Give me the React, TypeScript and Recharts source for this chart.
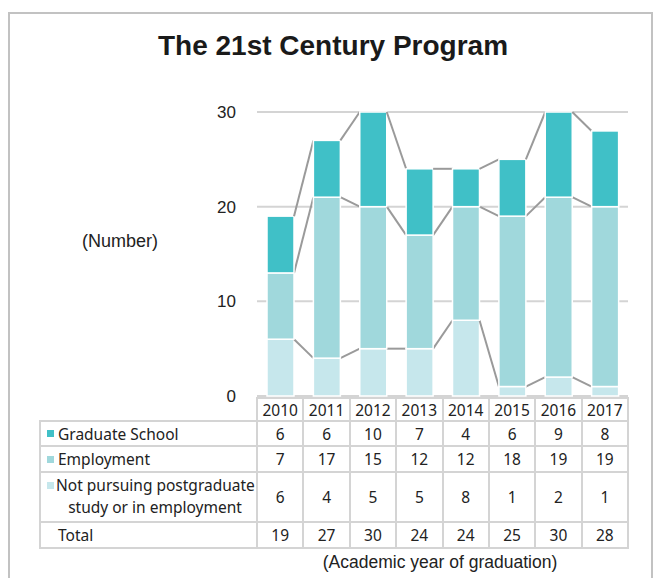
import React from 'react';
import { BarChart, Bar, XAxis, YAxis, CartesianGrid } from 'recharts';

const years = ['2010', '2011', '2012', '2013', '2014', '2015', '2016', '2017'];
const graduateSchool = [6, 6, 10, 7, 4, 6, 9, 8];
const employment = [7, 17, 15, 12, 12, 18, 19, 19];
const notPursuing = [6, 4, 5, 5, 8, 1, 2, 1];
const totals = [19, 27, 30, 24, 24, 25, 30, 28];
const yTicks = [0, 10, 20, 30];

const seriesNames = {
  graduate: 'Graduate School',
  employment: 'Employment',
  notPursuing: ['Not pursuing postgraduate', 'study or in employment'],
  total: 'Total',
};

const COLORS = {
  graduate: '#40C0C7',
  employment: '#A0D8DC',
  notPursuing: '#C6E7EC',
};

const data = years.map((y, i) => ({
  year: y,
  notPursuing: notPursuing[i],
  employment: employment[i],
  graduate: graduateSchool[i],
}));

const cumNP = notPursuing.slice();
const cumEmp = notPursuing.map((v, i) => v + employment[i]);
const cumGS = cumEmp.map((v, i) => v + graduateSchool[i]);

// layout
const W = 658;
const H = 578;
const PLOT_LEFT = 257;
const PLOT_RIGHT = 628;
const PLOT_TOP = 112;
const PLOT_BOTTOM = 396;
const STEP = (PLOT_RIGHT - PLOT_LEFT) / years.length;

const makeShape = (vals: number[], cum: number[], fill: string) => (props: any) => {
  const { x, y, width, height, index } = props;
  const ppu = height / vals[index];
  const y0 = y + cum[index] * ppu;
  const hasNext = index < vals.length - 1;
  return (
    <g>
      <rect x={x} y={y} width={width} height={height} fill={fill} stroke="#ffffff" strokeWidth={1.5} />
      {hasNext && (
        <line
          x1={x + width}
          y1={y}
          x2={x + STEP}
          y2={y0 - cum[index + 1] * ppu}
          stroke="#9a9a9a"
          strokeWidth={2}
        />
      )}
    </g>
  );
};

const LINE = '#d4d4d4';
const tableFont = '"Noto Sans", "DejaVu Sans", sans-serif';

const rows = [
  { top: 421, h: 25 },
  { top: 446, h: 26 },
  { top: 472, h: 50 },
  { top: 522, h: 26 },
];
const HEADER_TOP = 398;
const TABLE_LEFT = 40;
const TABLE_BOTTOM = 548;

function Table() {
  const els: React.ReactNode[] = [];
  // horizontal lines
  els.push(<div key="h0" style={{ position: 'absolute', left: PLOT_LEFT, top: HEADER_TOP - 1, width: PLOT_RIGHT - PLOT_LEFT + 1, height: 2, background: LINE }} />);
  rows.forEach((r, i) => {
    els.push(<div key={'h' + (i + 1)} style={{ position: 'absolute', left: TABLE_LEFT - 1, top: r.top - 1, width: PLOT_RIGHT - TABLE_LEFT + 2, height: 2, background: LINE }} />);
  });
  els.push(<div key="hb" style={{ position: 'absolute', left: TABLE_LEFT - 1, top: TABLE_BOTTOM - 1, width: PLOT_RIGHT - TABLE_LEFT + 2, height: 2, background: LINE }} />);
  // vertical lines
  els.push(<div key="v0" style={{ position: 'absolute', left: TABLE_LEFT - 1, top: rows[0].top - 1, width: 2, height: TABLE_BOTTOM - rows[0].top + 2, background: LINE }} />);
  for (let i = 0; i <= years.length; i++) {
    const x = PLOT_LEFT + i * STEP;
    els.push(<div key={'v' + (i + 1)} style={{ position: 'absolute', left: x - 1, top: HEADER_TOP - 1, width: 2, height: TABLE_BOTTOM - HEADER_TOP + 2, background: LINE }} />);
  }
  const cellText = (key: string, x: number, top: number, h: number, text: string | number) => (
    <div key={key} style={{ position: 'absolute', left: x, top, width: STEP, height: h, display: 'flex', alignItems: 'center', justifyContent: 'center', fontFamily: tableFont, fontSize: 15.5, color: '#222' }}>
      {text}
    </div>
  );
  years.forEach((y, i) => {
    const x = PLOT_LEFT + i * STEP;
    els.push(cellText('y' + i, x, HEADER_TOP, rows[0].top - HEADER_TOP, y));
    els.push(cellText('g' + i, x, rows[0].top, rows[0].h, graduateSchool[i]));
    els.push(cellText('e' + i, x, rows[1].top, rows[1].h, employment[i]));
    els.push(cellText('n' + i, x, rows[2].top, rows[2].h, notPursuing[i]));
    els.push(cellText('t' + i, x, rows[3].top, rows[3].h, totals[i]));
  });
  const marker = (key: string, color: string, top: number) => (
    <div key={key} style={{ position: 'absolute', left: 47, top: top - 3.5, width: 7, height: 7, background: color }} />
  );
  const label = (key: string, top: number, h: number, text: string) => (
    <div key={key} style={{ position: 'absolute', left: 58, top, height: h, display: 'flex', alignItems: 'center', fontFamily: tableFont, fontSize: 15.5, color: '#222', whiteSpace: 'nowrap' }}>
      {text}
    </div>
  );
  els.push(marker('m0', COLORS.graduate, rows[0].top + rows[0].h / 2));
  els.push(label('l0', rows[0].top, rows[0].h, seriesNames.graduate));
  els.push(marker('m1', COLORS.employment, rows[1].top + rows[1].h / 2));
  els.push(label('l1', rows[1].top, rows[1].h, seriesNames.employment));
  els.push(marker('m2', COLORS.notPursuing, rows[2].top + 13));
  els.push(
    <div key="l2" style={{ position: 'absolute', left: 56, top: rows[2].top + 2, width: 198, textAlign: 'center', fontFamily: tableFont, fontSize: 15.5, lineHeight: '22px', color: '#222', whiteSpace: 'nowrap' }}>
      <div>{seriesNames.notPursuing[0]}</div>
      <div>{seriesNames.notPursuing[1]}</div>
    </div>
  );
  els.push(label('l3', rows[3].top, rows[3].h, seriesNames.total));
  return <>{els}</>;
}

export default function App() {
  return (
    <div style={{ position: 'absolute', left: 0, top: 0, width: W, height: H, overflow: 'hidden', background: '#fff' }}>
      <div style={{ position: 'absolute', left: 8, top: 12, width: 645, height: 640, border: '2px solid #c2c2c2', boxSizing: 'border-box' }} />
      <div style={{ position: 'absolute', left: 0, top: 29, width: 666, textAlign: 'center', fontFamily: '"Liberation Sans", Arial, sans-serif', fontWeight: 'bold', fontSize: 28, lineHeight: '34px', color: '#1a1a1a' }}>
        The 21st Century Program
      </div>
      <div style={{ position: 'absolute', left: 82, top: 229, fontFamily: '"Liberation Sans", Arial, sans-serif', fontSize: 18, lineHeight: '24px', color: '#222' }}>
        (Number)
      </div>
      <div style={{ position: 'absolute', left: 300, top: 550, width: 280, textAlign: 'center', fontFamily: '"Liberation Sans", Arial, sans-serif', fontSize: 17.5, lineHeight: '24px', color: '#222' }}>
        (Academic year of graduation)
      </div>
      <div style={{ position: 'absolute', left: 0, top: 0 }}>
        <BarChart
          width={W}
          height={H}
          data={data}
          margin={{ top: PLOT_TOP, right: W - PLOT_RIGHT, bottom: H - PLOT_BOTTOM, left: PLOT_LEFT - 40 }}
          barSize={27}
        >
          <CartesianGrid vertical={false} stroke="#d4d4d4" strokeWidth={2} />
          <XAxis dataKey="year" hide />
          <YAxis
            width={40}
            domain={[0, 30]}
            ticks={yTicks}
            tickLine={false}
            axisLine={false}
            tickSize={0}
            tickMargin={21}
            tick={{ fill: '#222', fontSize: 17, fontFamily: '"Liberation Sans", Arial, sans-serif' }}
          />
          <Bar dataKey="notPursuing" stackId="a" fill={COLORS.notPursuing} isAnimationActive={false} shape={makeShape(notPursuing, cumNP, COLORS.notPursuing)} />
          <Bar dataKey="employment" stackId="a" fill={COLORS.employment} isAnimationActive={false} shape={makeShape(employment, cumEmp, COLORS.employment)} />
          <Bar dataKey="graduate" stackId="a" fill={COLORS.graduate} isAnimationActive={false} shape={makeShape(graduateSchool, cumGS, COLORS.graduate)} />
        </BarChart>
      </div>
      <Table />
    </div>
  );
}
